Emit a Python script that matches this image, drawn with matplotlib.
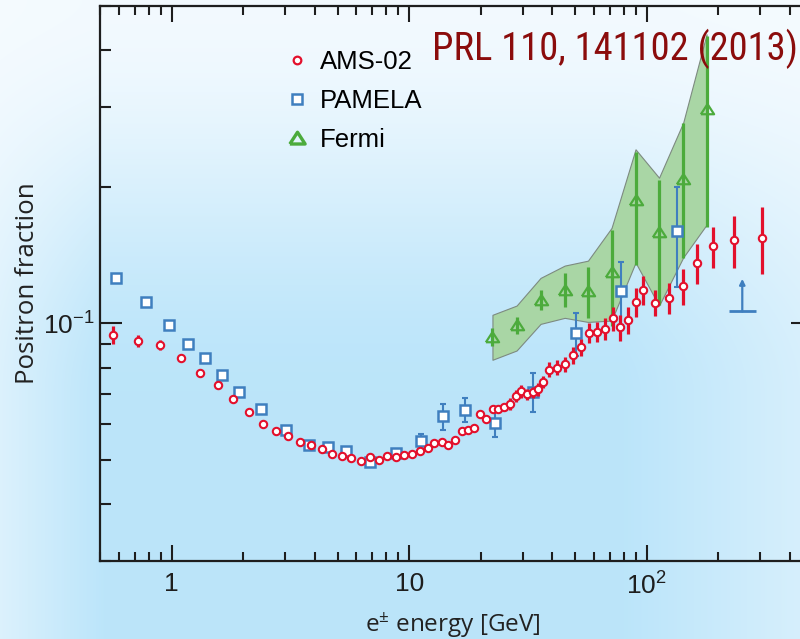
import numpy as np
import matplotlib
matplotlib.use("Agg")
import matplotlib.pyplot as plt
from matplotlib import font_manager as fm
from matplotlib.lines import Line2D
from matplotlib.ticker import FixedLocator, FixedFormatter, LogLocator, NullFormatter

# ---------------- data ----------------
ams_energy = [0.566, 0.724, 0.896, 1.094, 1.316, 1.562, 1.819, 2.110, 2.423, 2.741,
              3.100, 3.469, 3.874, 4.290, 4.741, 5.213, 5.709, 6.249, 6.819, 7.438,
              8.102, 8.834, 9.526, 10.29, 11.10, 11.94, 12.77, 13.71, 14.63, 15.59,
              16.64, 17.64, 18.74, 19.81, 21.06, 22.47, 23.75, 25.17, 26.63, 28.17,
              29.62, 31.24, 33.05, 34.83, 36.59, 38.74, 41.67, 45.15, 48.94, 52.90,
              57.16, 61.76, 66.56, 71.73, 77.33, 83.18, 89.65, 96.47, 107.8, 123.8,
              142.2, 162.8, 190.2, 233.2, 305.9]
ams_fraction = [0.0944, 0.0914, 0.0896, 0.0839, 0.0779, 0.0731, 0.0683, 0.0640, 0.0602, 0.0581,
                0.0566, 0.0548, 0.0539, 0.0530, 0.0517, 0.0510, 0.0505, 0.0498, 0.0508, 0.0501,
                0.0512, 0.0508, 0.0513, 0.0517, 0.0525, 0.0533, 0.0545, 0.0549, 0.0539, 0.0553,
                0.0580, 0.0584, 0.0589, 0.0632, 0.0615, 0.0649, 0.0648, 0.0655, 0.0666, 0.0691,
                0.0709, 0.0698, 0.0705, 0.0716, 0.0744, 0.0791, 0.0799, 0.0814, 0.0851, 0.0887,
                0.0954, 0.0960, 0.0974, 0.1027, 0.0980, 0.1019, 0.1115, 0.1185, 0.1112, 0.1137,
                0.1210, 0.1359, 0.1479, 0.1525, 0.1543]
ams_err = [0.0044, 0.0027, 0.0023, 0.0010, 0.0008, 0.0007, 0.0006, 0.0005, 0.0004, 0.0004,
           0.0004, 0.0004, 0.0004, 0.0004, 0.0004, 0.0004, 0.0004, 0.0004, 0.0004, 0.0004,
           0.0004, 0.0004, 0.0004, 0.0004, 0.0004, 0.0004, 0.0004, 0.0004, 0.0004, 0.0011,
           0.0012, 0.0012, 0.0012, 0.0013, 0.0012, 0.0013, 0.0013, 0.0013, 0.0020, 0.0021,
           0.0022, 0.0021, 0.0021, 0.0022, 0.0023, 0.0030, 0.0030, 0.0031, 0.0037, 0.0038,
           0.0048, 0.0049, 0.0055, 0.0062, 0.0064, 0.0070, 0.0080, 0.0088, 0.0074, 0.0090,
           0.0109, 0.0139, 0.0154, 0.0198, 0.0261]

pamela_energy = [0.585, 0.782, 0.978, 1.176, 1.381, 1.628, 1.928, 2.370, 3.029, 3.800,
                 4.550, 5.440, 6.819, 8.834, 11.26, 13.88, 17.25, 22.98, 33.21, 50.23,
                 77.56, 133.4]
pamela_fraction = [0.1260, 0.1116, 0.0990, 0.0899, 0.0839, 0.0772, 0.0705, 0.0648, 0.0582, 0.0540,
                   0.0534, 0.0525, 0.0495, 0.0518, 0.0550, 0.0625, 0.0646, 0.0604, 0.0707, 0.0952,
                   0.1180, 0.1601]
pamela_err = [0, 0, 0, 0, 0, 0, 0, 0, 0, 0,
              0, 0, 0, 0, 0.0022, 0.0041, 0.0039, 0.0041, 0.0070, 0.0104,
              0.0188, 0.0396]
pamela_limit_energy = 252.0
pamela_limit_bin = [222.0, 288.0]
pamela_limit_value = 0.1063
pamela_limit_arrow = 0.1254

fermi_energy = [22.4, 28.3, 35.7, 45.1, 56.5, 71.0, 89.6, 112.5, 142.2, 178.3]
fermi_fraction = [0.0936, 0.0990, 0.1129, 0.1188, 0.1179, 0.1297, 0.1868, 0.1587, 0.2078, 0.2965]
fermi_err = [0.0043, 0.0042, 0.0058, 0.0102, 0.0153, 0.0311, 0.0523, 0.0486, 0.0686, 0.1338]
fermi_band_lo = [0.0832, 0.0872, 0.0998, 0.1029, 0.1008, 0.1015, 0.1362, 0.1095, 0.1398, 0.1650]
fermi_band_hi = [0.1045, 0.1095, 0.1260, 0.1341, 0.1375, 0.1623, 0.2418, 0.2094, 0.2770, 0.4332]

x_tick_values = [1, 10, 100]
x_tick_labels = ["1", "10", "10$^2$"]
y_tick_values = [0.1]
y_tick_labels = ["10$^{-1}$"]

series_labels = ["AMS-02", "PAMELA", "Fermi"]
title_text = "PRL 110, 141102 (2013)"
xlabel_text = "e$^{±}$ energy [GeV]"
ylabel_text = "Positron fraction"

# ---------------- style ----------------
plt.rcParams["font.family"] = ["Liberation Sans", "DejaVu Sans"]
plt.rcParams["mathtext.default"] = "regular"

RED = "#e3102c"
BLUE = "#3f7fbf"
GREEN = "#4cab3c"
INK = "#1e1e1e"


def pick_narrow():
    cands = [("Liberation Sans Narrow", "normal"), ("Roboto Condensed", "normal"),
             ("Open Sans Condensed", "normal"), ("Noto Sans", "condensed"),
             ("Open Sans", "condensed"), ("DejaVu Sans", "condensed"),
             ("Roboto", "condensed")]
    for fam, st in cands:
        try:
            p = fm.findfont(fm.FontProperties(family=fam, stretch=st), fallback_to_default=False)
        except Exception:
            continue
        if any(k in p for k in ("Narrow", "Condensed", "Cond")):
            return fam, st
    return "Liberation Sans", "normal"


fig = plt.figure(figsize=(8.0, 6.39), dpi=100)

# background gradient
bg = fig.add_axes([0, 0, 1, 1], zorder=0)
H, W = 639, 800
yy = np.linspace(0, 1, H)[:, None]
xx = np.linspace(0, 1, W)[None, :]
v = np.clip(yy / 0.62, 0, 1)
v = v * v * (3 - 2 * v)
v = 0.06 + 0.94 * v
hx = 1 - 0.55 * np.clip((0.13 - xx) / 0.13, 0, 1) - 0.45 * np.clip((xx - 0.78) / 0.22, 0, 1)
w = v * hx
light = np.array([0.965, 0.985, 1.0])
deep = np.array([0.735, 0.898, 0.98])
img = light + (deep - light) * w[..., None]
bg.imshow(img, aspect="auto", extent=[0, 1, 0, 1], origin="upper")
bg.axis("off")

ax = fig.add_axes([0.125, 0.12207, 0.89125, 0.86854], zorder=1)
ax.set_facecolor("none")
ax.set_xscale("log")
ax.set_yscale("log")
ax.set_xlim(0.5, 500)
ax.set_ylim(0.03, 0.5)

tri = [(-1.0, -0.72), (1.0, -0.72), (0.0, 0.82), (-1.0, -0.72)]

# Fermi band + points
ax.fill_between(fermi_energy, fermi_band_lo, fermi_band_hi, facecolor="#a9d6a5",
                edgecolor="#7d8a80", linewidth=0.8, zorder=1)
ax.errorbar(fermi_energy, fermi_fraction, yerr=fermi_err, fmt="none", ecolor=GREEN,
            elinewidth=2.3, zorder=2)
ax.plot(fermi_energy, fermi_fraction, linestyle="none", marker=tri, ms=9.5,
        mfc="none", mec=GREEN, mew=1.6, zorder=3)

# PAMELA
pe = np.array(pamela_energy)
pf = np.array(pamela_fraction)
perr = np.array(pamela_err)
m = perr > 0
ax.errorbar(pe[m], pf[m], yerr=perr[m], fmt="none", ecolor=BLUE, elinewidth=1.5,
            capsize=2.5, capthick=1.5, zorder=4)
ax.plot(pe, pf, linestyle="none", marker="s", ms=6.5, mfc="white", mec=BLUE, mew=1.8, zorder=4)
ax.hlines(pamela_limit_value, pamela_limit_bin[0], pamela_limit_bin[1], colors=BLUE,
          linewidth=2.0, zorder=4)
ax.annotate("", xy=(pamela_limit_energy, pamela_limit_arrow),
            xytext=(pamela_limit_energy, pamela_limit_value),
            arrowprops=dict(arrowstyle="-|>", color=BLUE, lw=1.6, mutation_scale=8,
                            shrinkA=0, shrinkB=0), zorder=4)

# AMS-02
ax.errorbar(ams_energy, ams_fraction, yerr=ams_err, fmt="o", ms=5.3, mfc="white", mec=RED,
            mew=1.5, ecolor=RED, elinewidth=2.3, capsize=0, zorder=5)

# ticks
ax.xaxis.set_major_locator(FixedLocator(x_tick_values))
ax.xaxis.set_major_formatter(FixedFormatter(x_tick_labels))
ax.yaxis.set_major_locator(FixedLocator(y_tick_values))
ax.yaxis.set_major_formatter(FixedFormatter(y_tick_labels))
ax.xaxis.set_minor_locator(LogLocator(base=10, subs=np.arange(2, 10)))
ax.yaxis.set_minor_locator(LogLocator(base=10, subs=np.arange(2, 10)))
ax.xaxis.set_minor_formatter(NullFormatter())
ax.yaxis.set_minor_formatter(NullFormatter())
ax.tick_params(axis="both", which="both", direction="in", top=True, right=True,
               width=1.5, color=INK, labelsize=19, labelcolor=INK)
ax.tick_params(axis="x", which="major", length=11.5, pad=8)
ax.tick_params(axis="x", which="minor", length=6.5)
ax.tick_params(axis="y", which="major", length=15.5, pad=4)
ax.tick_params(axis="y", which="minor", length=8)
for s in ax.spines.values():
    s.set_linewidth(1.6)
    s.set_color(INK)

# labels
xl = ax.set_xlabel(xlabel_text, fontsize=17, family=["Open Sans", "DejaVu Sans"],
                   color="#222222", va="baseline")
ax.xaxis.set_label_coords((453 - 100) / 713, (561 - 632) / 555)
yl = ax.set_ylabel(ylabel_text, fontsize=18, family=["Open Sans", "DejaVu Sans"],
                   color="#222222", ha="center", va="center", rotation_mode="default")
ax.yaxis.set_label_coords((27 - 100) / 713, 0.5)

tfam, tstretch = pick_narrow()
title = fig.text(432 / 800, 1 - 60 / 639, title_text, ha="left", va="baseline",
                 color="#8b0c0c", fontsize=28, family=[tfam, "Liberation Sans"],
                 fontstretch=tstretch)

# legend
handles = [
    Line2D([], [], linestyle="none", marker="o", ms=5.5, mfc="white", mec=RED, mew=1.6),
    Line2D([], [], linestyle="none", marker="s", ms=6.5, mfc="white", mec=BLUE, mew=1.8),
    Line2D([], [], linestyle="none", marker=tri, ms=11, mfc="none", mec=GREEN, mew=2.4),
]
ax.legend(handles, series_labels, loc="upper left", bbox_to_anchor=(284 / 800, 1 - 50 / 639),
          bbox_transform=fig.transFigure, frameon=False,
          prop={"family": "Liberation Sans", "size": 18.5}, handlelength=1.0,
          handletextpad=0.4, labelspacing=0.58, borderpad=0, borderaxespad=0)

# fit text extents to the reference's measured lengths
fig.canvas.draw()
r = fig.canvas.get_renderer()
for t, target, dim in ((title, 366.0, "w"), (xl, 176.0, "w"), (yl, 201.0, "h")):
    bb = t.get_window_extent(r)
    cur = bb.width if dim == "w" else bb.height
    if cur > 0:
        t.set_fontsize(t.get_fontsize() * target / cur)

fig.savefig("out.png", dpi=100)
